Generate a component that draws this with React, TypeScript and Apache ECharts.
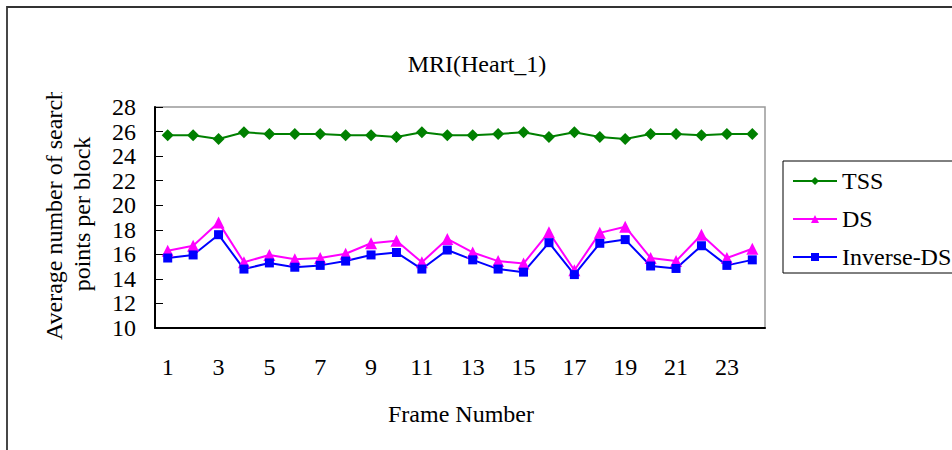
import React, { useEffect, useRef } from "react";
import * as echarts from "echarts";

const frames = ["1", "2", "3", "4", "5", "6", "7", "8", "9", "10", "11", "12", "13", "14", "15", "16", "17", "18", "19", "20", "21", "22", "23", "24"];
const tss = [25.7, 25.7, 25.4, 25.95, 25.8, 25.8, 25.8, 25.7, 25.7, 25.55, 25.95, 25.7, 25.7, 25.8, 25.95, 25.55, 25.95, 25.55, 25.4, 25.8, 25.8, 25.7, 25.8, 25.8];
const ds = [16.3, 16.7, 18.6, 15.35, 15.95, 15.6, 15.7, 16.05, 16.9, 17.1, 15.35, 17.25, 16.15, 15.45, 15.25, 17.8, 14.7, 17.75, 18.25, 15.7, 15.45, 17.6, 15.7, 16.45];
const inverseDs = [15.7, 15.95, 17.6, 14.8, 15.3, 14.95, 15.1, 15.45, 15.95, 16.15, 14.8, 16.35, 15.55, 14.8, 14.55, 16.95, 14.35, 16.9, 17.2, 15.05, 14.85, 16.7, 15.1, 15.55];
const seriesNames = ["TSS", "DS", "Inverse-DS"];
const titleText = "MRI(Heart_1)";
const xAxisTitle = "Frame Number";
const yAxisTitle = "Average number of search\npoints per block";

const FONT = "Liberation Serif, serif";

export default function App() {
  const ref = useRef<HTMLDivElement>(null);
  useEffect(() => {
    if (!ref.current) return;
    const chart = echarts.init(ref.current, undefined, { renderer: "svg" });
    chart.setOption({
      animation: false,
      backgroundColor: "#ffffff",
      grid: {
        left: 155,
        top: 107,
        right: 187,
        bottom: 122,
        show: true,
        borderColor: "#999999",
        borderWidth: 1.5,
        backgroundColor: "transparent",
      },
      legend: {
        orient: "vertical",
        left: 783,
        top: 161,
        data: seriesNames,
        itemWidth: 44,
        itemHeight: 10,
        itemGap: 14,
        padding: [8, 12, 4, 9],
        borderColor: "#000000",
        borderWidth: 1,
        textStyle: { fontFamily: FONT, fontSize: 24, color: "#000000" },
      },
      xAxis: {
        type: "category",
        data: frames,
        boundaryGap: true,
        axisLine: { lineStyle: { color: "#000000", width: 2 } },
        axisTick: { inside: true, length: 8, interval: 0, lineStyle: { color: "#000000", width: 1 } },
        axisLabel: { interval: 1, fontSize: 24, color: "#000000", fontFamily: FONT, margin: 27 },
        splitLine: { show: false },
      },
      yAxis: {
        type: "value",
        min: 10,
        max: 28,
        interval: 2,
        axisLine: { show: true, lineStyle: { color: "#000000", width: 2 } },
        axisTick: { show: true, inside: true, length: 8, lineStyle: { color: "#000000", width: 1 } },
        axisLabel: { fontSize: 24, color: "#000000", fontFamily: FONT, margin: 19 },
        splitLine: { show: false },
      },
      series: [
        {
          name: seriesNames[0],
          type: "line",
          data: tss,
          symbol: "diamond",
          symbolSize: 12,
          color: "#008000",
          lineStyle: { color: "#008000", width: 2 },
          itemStyle: { color: "#008000" },
        },
        {
          name: seriesNames[1],
          type: "line",
          data: ds,
          symbol: "triangle",
          symbolSize: 12,
          color: "#ff00ff",
          lineStyle: { color: "#ff00ff", width: 2 },
          itemStyle: { color: "#ff00ff" },
        },
        {
          name: seriesNames[2],
          type: "line",
          data: inverseDs,
          symbol: "rect",
          symbolSize: 9,
          color: "#0000ff",
          lineStyle: { color: "#0000ff", width: 2 },
          itemStyle: { color: "#0000ff" },
        },
      ],
      graphic: [
        {
          type: "rect",
          shape: { x: 7, y: 7, width: 1000, height: 500 },
          style: { fill: "none", stroke: "#333333", lineWidth: 1.8 },
          silent: true,
          z: 0,
        },
        {
          type: "text",
          x: 477,
          y: 64,
          style: { text: titleText, fontFamily: FONT, fontSize: 24, fill: "#000000", align: "center", verticalAlign: "middle" },
        },
        {
          type: "text",
          x: 461,
          y: 414,
          style: { text: xAxisTitle, fontFamily: FONT, fontSize: 24, fill: "#000000", align: "center", verticalAlign: "middle" },
        },
        {
          type: "text",
          x: 68,
          y: 214,
          rotation: Math.PI / 2,
          style: { text: yAxisTitle, fontFamily: FONT, fontSize: 24, lineHeight: 28, fill: "#000000", align: "center", verticalAlign: "middle" },
          z: 10,
        },
        {
          type: "rect",
          shape: { x: 30, y: 10, width: 36, height: 82 },
          style: { fill: "#ffffff" },
          z: 20,
        },
      ],
    });
    return () => chart.dispose();
  }, []);
  return <div ref={ref} style={{ position: "absolute", left: 0, top: 0, width: 952, height: 450 }} />;
}
